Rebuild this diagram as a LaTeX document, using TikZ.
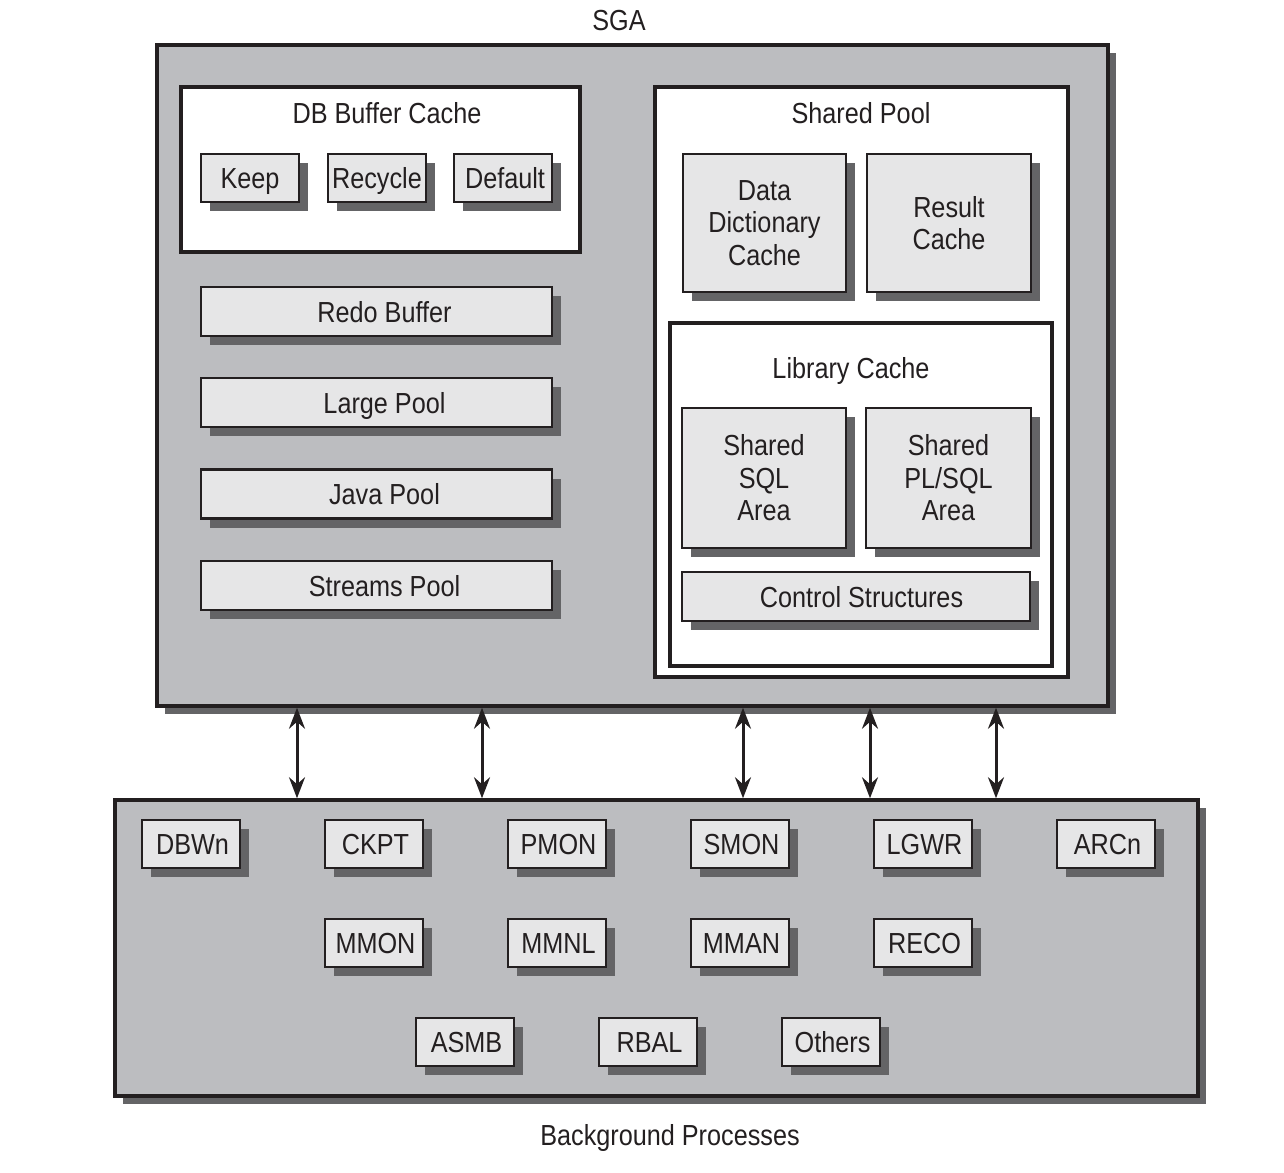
\documentclass[tikz,border=0pt]{standalone}
\usepackage{fontspec}
\setmainfont[FakeStretch=0.87]{Liberation Sans}
\usetikzlibrary{shadows,arrows.meta}
\definecolor{sgagray}{HTML}{BCBDC0}
\definecolor{boxgray}{HTML}{E6E6E7}
\definecolor{shgray}{HTML}{646466}
\definecolor{ink}{HTML}{231F20}
\tikzset{
  txt/.style={font=\fontsize{29pt}{32.5pt}\selectfont, text=ink, inner sep=0pt},
  one/.style={text height=21pt, text depth=0pt},
  bigbox/.style={draw=ink, line width=3.5pt, inner sep=0pt},
  sgabox/.style={bigbox, fill=sgagray, drop shadow={shadow xshift=8pt, shadow yshift=-8pt, fill=shgray, opacity=1}},
  whitebox/.style={bigbox, fill=white},
  pbox/.style={txt, draw=ink, line width=2.5pt, fill=boxgray, align=center,
    drop shadow={shadow xshift=9pt, shadow yshift=-9pt, fill=shgray, opacity=1}},
  nudge/.style={execute at begin node={\hspace*{#1}}},
  smallbox/.style={pbox, one, minimum width=98pt, minimum height=48pt, nudge=3pt},
  longbox/.style={pbox, one, minimum width=351pt, minimum height=49pt, nudge=16pt},
  tip/.style={Stealth[length=21pt,width=16pt,inset=7pt]},
  arr/.style={draw=ink, line width=3pt, {Stealth[length=21pt,width=16pt,inset=7pt]}-{Stealth[length=21pt,width=16pt,inset=7pt]}}
}
\begin{document}
\begin{tikzpicture}[x=1pt,y=-1pt]
\useasboundingbox (0,0) rectangle (1284,1172);
% SGA
\node[sgabox, minimum width=951pt, minimum height=661pt] (sga) at (632.5,375.5) {};
\node[txt, one] (sgalabel) at (619,20) {SGA};
% DB Buffer Cache
\node[whitebox, minimum width=399pt, minimum height=165pt] (dbc) at (380.5,169.5) {};
\node[txt, one] (dbctitle) at (387,113) {DB Buffer Cache};
\node[pbox, one, minimum width=98pt, minimum height=48pt] (keep) at (250,178) {Keep};
\node[pbox, one, minimum width=98pt, minimum height=48pt] (recycle) at (377,178) {Recycle};
\node[pbox, one, minimum width=98pt, minimum height=48pt, nudge=4pt] (default) at (503,178) {Default};
% pools
\node[longbox] (redo) at (376.5,311.5) {Redo Buffer};
\node[longbox] (large) at (376.5,402.5) {Large Pool};
\node[longbox] (java) at (376.5,494) {Java Pool};
\node[longbox] (streams) at (376.5,585.5) {Streams Pool};
% Shared Pool
\node[whitebox, minimum width=413pt, minimum height=590pt] (spool) at (861.5,382) {};
\node[txt, one] (spooltitle) at (861,113) {Shared Pool};
\node[pbox, minimum width=163pt, minimum height=138pt] (ddc) at (764.5,223) {Data\\Dictionary\\Cache};
\node[pbox, minimum width=164pt, minimum height=138pt] (rc) at (949,223) {Result\\Cache};
% Library Cache
\node[whitebox, minimum width=382pt, minimum height=343pt] (lib) at (861,494.5) {};
\node[txt, one] (libtitle) at (851,368) {Library Cache};
\node[pbox, minimum width=164pt, minimum height=140pt] (ssql) at (764,478) {Shared\\SQL\\Area};
\node[pbox, minimum width=165pt, minimum height=140pt] (spl) at (948.5,478) {Shared\\PL/SQL\\Area};
\node[pbox, one, minimum width=348pt, minimum height=49pt, nudge=11pt] (ctrl) at (856,596.5) {Control Structures};
% Background processes
\node[sgabox, minimum width=1083pt, minimum height=296pt] (bgp) at (656.5,948) {};
\node[txt, one] (bgplabel) at (670,1135) {Background Processes};
\node[smallbox] (dbwn) at (191,844) {DBWn};
\node[smallbox] (ckpt) at (374,844) {CKPT};
\node[smallbox] (pmon) at (557,844) {PMON};
\node[smallbox] (smon) at (740,844) {SMON};
\node[smallbox] (lgwr) at (923,844) {LGWR};
\node[smallbox] (arcn) at (1106,844) {ARCn};
\node[smallbox] (mmon) at (374,943) {MMON};
\node[smallbox] (mmnl) at (557,943) {MMNL};
\node[smallbox] (mman) at (740,943) {MMAN};
\node[smallbox] (reco) at (923,943) {RECO};
\node[smallbox] (asmb) at (465,1042) {ASMB};
\node[smallbox] (rbal) at (648,1042) {RBAL};
\node[smallbox] (others) at (831,1042) {Others};
% arrows
\coordinate (c1) at (297,750);
\coordinate (c2) at (482,750);
\coordinate (c3) at (743,750);
\coordinate (c4) at (870,750);
\coordinate (c5) at (996,750);
\foreach \c in {c1,c2,c3,c4,c5}{
  \draw[arr] (sga.south -| \c) -- (bgp.north -| \c);
}
\end{tikzpicture}
\end{document}
